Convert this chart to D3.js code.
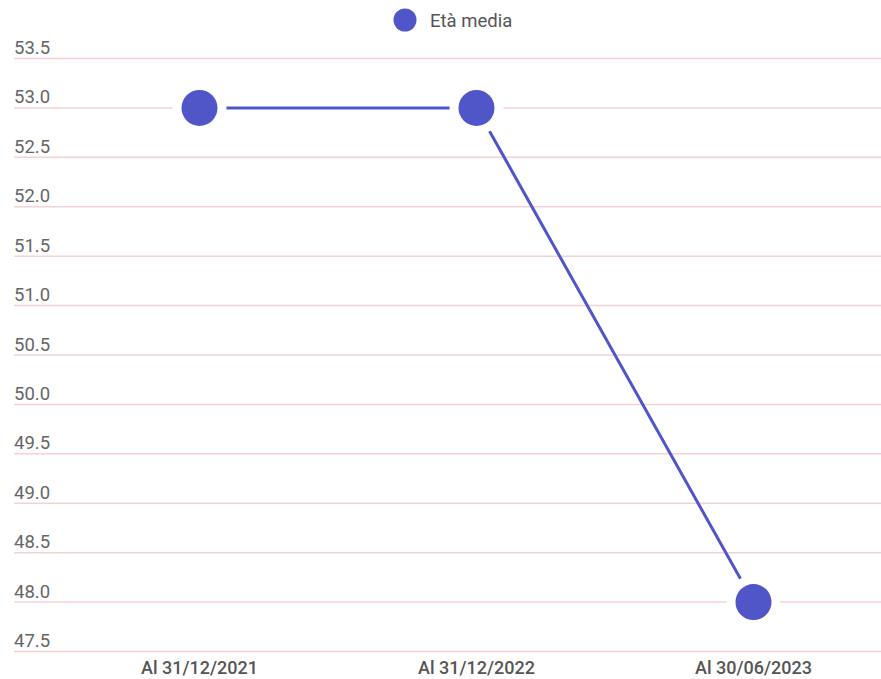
<!DOCTYPE html>
<html>
<head>
<meta charset="utf-8">
<script src="https://cdn.jsdelivr.net/npm/d3@7"></script>
<style>
  body { margin: 0; background: #fff; }
  svg { font-family: Roboto, "Noto Sans", Arial, sans-serif; }
</style>
</head>
<body>
<div id="chart"></div>
<script>
// data
const categories = ["Al 31/12/2021", "Al 31/12/2022", "Al 30/06/2023"];
const etaMedia = [53.0, 53.0, 48.0];
const yTicks = [47.5, 48.0, 48.5, 49.0, 49.5, 50.0, 50.5, 51.0, 51.5, 52.0, 52.5, 53.0, 53.5];
const seriesName = "Età media";

const width = 881, height = 679;
const color = "#5055c8";
const gridColor = "#f3d2d3";

const svg = d3.select("#chart").append("svg")
    .attr("width", width)
    .attr("height", height);

// scales
const x = d3.scalePoint()
    .domain(categories)
    .range([61, 892])
    .padding(0.5);

const y = d3.scaleLinear()
    .domain([47.5, 53.5])
    .range([651.5, 58.5]);

// grid lines + y labels
const grid = svg.append("g");
yTicks.forEach(t => {
    grid.append("line")
        .attr("x1", 14)
        .attr("x2", width)
        .attr("y1", y(t))
        .attr("y2", y(t))
        .attr("stroke", gridColor)
        .attr("stroke-width", 1.5);
    grid.append("text")
        .attr("x", 14)
        .attr("y", y(t) - 4.5)
        .attr("font-size", "18.5px")
        .attr("fill", "#666")
        .text(t.toFixed(1));
});

// x labels
svg.append("g").selectAll("text")
    .data(categories)
    .join("text")
    .attr("x", d => x(d))
    .attr("y", 674)
    .attr("text-anchor", "middle")
    .attr("font-size", "18px")
    .attr("font-weight", 500)
    .attr("fill", "#555")
    .text(d => d);

const pts = categories.map((c, i) => ({ c, v: etaMedia[i] }));

// line
svg.append("path")
    .datum(pts)
    .attr("fill", "none")
    .attr("stroke", color)
    .attr("stroke-width", 3)
    .attr("d", d3.line().x(d => x(d.c)).y(d => y(d.v)));

// white halo around points (gap in line and grid)
svg.append("g").selectAll("circle")
    .data(pts)
    .join("circle")
    .attr("cx", d => x(d.c))
    .attr("cy", d => y(d.v))
    .attr("r", 27)
    .attr("fill", "#fff");

svg.append("g").selectAll("circle")
    .data(pts)
    .join("circle")
    .attr("cx", d => x(d.c))
    .attr("cy", d => y(d.v))
    .attr("r", 18)
    .attr("fill", color);

// legend
const legend = svg.append("g");
legend.append("circle")
    .attr("cx", 405)
    .attr("cy", 20)
    .attr("r", 11.5)
    .attr("fill", color);
legend.append("text")
    .attr("x", 430)
    .attr("y", 27)
    .attr("font-size", "18.5px")
    .attr("fill", "#555")
    .text(seriesName);
</script>
</body>
</html>
